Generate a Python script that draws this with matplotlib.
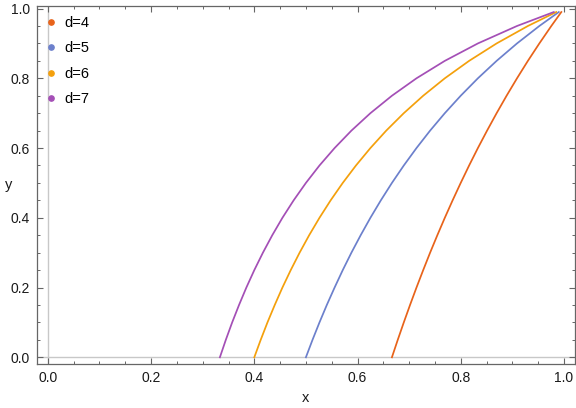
import matplotlib
matplotlib.use("Agg")
import matplotlib.pyplot as plt
from matplotlib.lines import Line2D
from matplotlib.ticker import MultipleLocator

plt.rcParams['font.family'] = ['Liberation Sans', 'DejaVu Sans']

# data (y shared, x per curve)
y_vals = [0.0, 0.05, 0.10, 0.15, 0.20, 0.25, 0.30, 0.35, 0.40, 0.45, 0.50,
          0.55, 0.60, 0.65, 0.70, 0.75, 0.80, 0.85, 0.90, 0.95, 0.99]
x_d4 = [0.6667, 0.6780, 0.6897, 0.7018, 0.7143, 0.7273, 0.7407, 0.7547, 0.7692, 0.7843, 0.8000,
        0.8163, 0.8333, 0.8511, 0.8696, 0.8889, 0.9091, 0.9302, 0.9524, 0.9756, 0.9950]
x_d5 = [0.5000, 0.5128, 0.5263, 0.5405, 0.5556, 0.5714, 0.5882, 0.6061, 0.6250, 0.6452, 0.6667,
        0.6897, 0.7143, 0.7407, 0.7692, 0.8000, 0.8333, 0.8696, 0.9091, 0.9524, 0.9901]
x_d6 = [0.4000, 0.4124, 0.4255, 0.4396, 0.4545, 0.4706, 0.4878, 0.5063, 0.5263, 0.5479, 0.5714,
        0.5970, 0.6250, 0.6557, 0.6897, 0.7273, 0.7692, 0.8163, 0.8696, 0.9302, 0.9852]
x_d7 = [0.3333, 0.3448, 0.3571, 0.3704, 0.3846, 0.4000, 0.4167, 0.4348, 0.4545, 0.4762, 0.5000,
        0.5263, 0.5556, 0.5882, 0.6250, 0.6667, 0.7143, 0.7692, 0.8333, 0.9091, 0.9804]
labels = ["d=4", "d=5", "d=6", "d=7"]
colors = ["#E8631A", "#6C80CC", "#F4A00C", "#A44FB6"]
series = [x_d4, x_d5, x_d6, x_d7]

W, H = 576, 408
fig = plt.figure(figsize=(W / 100, H / 100), dpi=100)
left, right, top, bottom = 36.7, 575.0, 5.7, 363.7
ax = fig.add_axes([left / W, (H - bottom) / H, (right - left) / W, (bottom - top) / H])

# axes at origin
ax.axvline(0, color="#C8C8C8", lw=1.0, zorder=1)
ax.axhline(0, color="#C8C8C8", lw=1.0, zorder=1)

for xs, c in zip(series, colors):
    ax.plot(xs, y_vals, color=c, lw=1.25, zorder=3)

ax.set_xlim(-0.0217, 1.0215)
ax.set_ylim(-0.01835, 1.00817)

for sp in ax.spines.values():
    sp.set_color("#666666")
    sp.set_linewidth(0.9)

ax.xaxis.set_major_locator(MultipleLocator(0.2))
ax.xaxis.set_minor_locator(MultipleLocator(0.05))
ax.yaxis.set_major_locator(MultipleLocator(0.2))
ax.yaxis.set_minor_locator(MultipleLocator(0.05))
ax.xaxis.set_major_formatter(matplotlib.ticker.FormatStrFormatter('%.1f'))
ax.yaxis.set_major_formatter(matplotlib.ticker.FormatStrFormatter('%.1f'))
ax.tick_params(which="both", direction="in", top=True, right=True, color="#666666",
               labelsize=10, labelcolor="#1a1a1a")
ax.tick_params(which="major", length=4.5, width=0.8, pad=5)
ax.tick_params(which="minor", length=2.5, width=0.7)

fig.text(5 / W, 1 - 185 / H, "y", fontsize=10.5, ha="left", va="center", color="#1a1a1a")
fig.text(305.8 / W, 1 - 398 / H, "x", fontsize=10.5, ha="center", va="center", color="#1a1a1a")

handles = [Line2D([], [], marker="o", ls="none", color=c, markersize=3.8) for c in colors]
leg = ax.legend(handles, labels, loc="upper left",
                bbox_to_anchor=(47 / W, 1 - 16 / H), bbox_transform=fig.transFigure,
                frameon=False, fontsize=10.5, handlelength=0.5, handletextpad=0.7,
                labelspacing=0.78, borderpad=0, borderaxespad=0)

fig.savefig("out.png", dpi=100)
